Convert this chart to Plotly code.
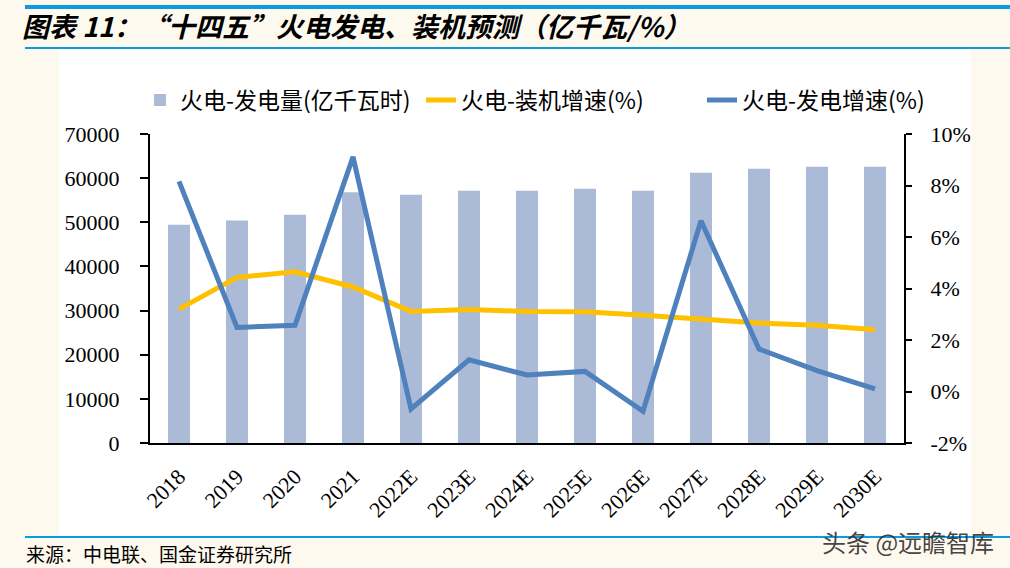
import plotly.graph_objects as go

categories = ["2018", "2019", "2020", "2021", "2022E", "2023E", "2024E", "2025E",
              "2026E", "2027E", "2028E", "2029E", "2030E"]
generation = [49450, 50400, 51700, 56800, 56250, 57150, 57150, 57600, 57150,
              61230, 62140, 62590, 62600]
capacity_growth = [3.20, 4.43, 4.65, 4.06, 3.11, 3.18, 3.11, 3.10, 2.96, 2.79,
                   2.66, 2.57, 2.40]
generation_growth = [8.16, 2.49, 2.57, 9.11, -0.68, 1.23, 0.64, 0.78, -0.77,
                     6.63, 1.65, 0.81, 0.10]

left_ticks = [0, 10000, 20000, 30000, 40000, 50000, 60000, 70000]
left_labels = ["0", "10000", "20000", "30000", "40000", "50000", "60000", "70000"]
right_ticks = [-2, 0, 2, 4, 6, 8, 10]
right_labels = ["-2%", "0%", "2%", "4%", "6%", "8%", "10%"]

names = ["火电-发电量(亿千瓦时)", "火电-装机增速(%)", "火电-发电增速(%)"]
title_text = "图表 11：“十四五”火电发电、装机预测（亿千瓦/%）"
source_text = "来源：中电联、国金证券研究所"
watermark_text = "头条 @远瞻智库"

W, H = 1010, 568
L, R, T, B = 150, 904, 134, 443  # plot area in pixels


def px(x):
    return (x - L) / (R - L)


def py(y):
    return (B - y) / (B - T)


CJK = "Noto Sans CJK SC"
SERIF = "Liberation Serif"
RULE = "#0A9BE0"
CREAM = "#FEF9EE"

fig = go.Figure()
fig.add_trace(go.Bar(x=categories, y=generation, name=names[0],
                     marker=dict(color="#ABBAD7", line=dict(width=0)),
                     yaxis="y"))
fig.add_trace(go.Scatter(x=categories, y=capacity_growth, name=names[1],
                         mode="lines", line=dict(color="#FFC000", width=5),
                         yaxis="y2"))
fig.add_trace(go.Scatter(x=categories, y=generation_growth, name=names[2],
                         mode="lines", line=dict(color="#4F81BD", width=5),
                         yaxis="y2"))

shapes = [
    dict(type="rect", xref="paper", yref="paper", x0=px(59), x1=px(971),
         y0=py(536), y1=py(49), fillcolor="white", line=dict(width=0),
         layer="below"),
    dict(type="rect", xref="paper", yref="paper", x0=px(25), x1=px(1010),
         y0=py(8), y1=py(5), fillcolor=RULE, line=dict(width=0)),
]


def rule(y, h):
    return dict(text=" ", xref="paper", yref="paper", x=px(25), y=py(y),
                xanchor="left", yanchor="middle", showarrow=False,
                width=985, height=h, bgcolor=RULE, borderpad=0, borderwidth=0,
                font=dict(size=1, color=RULE))


annotations = [
    rule(7, 3),
    rule(48.5, 2),
    rule(536.5, 2),
    dict(text=title_text, xref="paper", yref="paper", x=px(20), y=py(26),
         xanchor="left", yanchor="middle", showarrow=False,
         font=dict(family=CJK, size=27, color="black", weight="bold",
                   style="italic")),
    dict(text=source_text, xref="paper", yref="paper", x=px(24), y=py(553),
         xanchor="left", yanchor="middle", showarrow=False,
         font=dict(family=CJK, size=19, color="black")),
    dict(text=watermark_text, xref="paper", yref="paper", x=px(996), y=py(541),
         xanchor="right", yanchor="middle", showarrow=False,
         font=dict(family=CJK, size=24, color="rgba(45,45,45,0.9)")),
]

fig.update_layout(
    width=W, height=H,
    margin=dict(l=L, r=W - R, t=T, b=H - B, pad=0),
    paper_bgcolor=CREAM,
    plot_bgcolor="white",
    bargap=0.62,
    showlegend=True,
    legend=dict(orientation="h", x=px(140), y=py(100), xanchor="left",
                yanchor="middle", font=dict(family=CJK, size=23, color="black"),
                bgcolor="rgba(0,0,0,0)", itemwidth=30, traceorder="normal",
                entrywidth=236, entrywidthmode="pixels"),
    xaxis=dict(type="category", showline=True, linecolor="black", linewidth=2,
               ticks="", tickangle=-45, showgrid=False, zeroline=False,
               tickfont=dict(family=SERIF, size=22, color="black"),
               ticklabelstandoff=10),
    yaxis=dict(range=[0, 70000], tickvals=left_ticks, ticktext=left_labels,
               showline=True, linecolor="black",
               linewidth=2, ticks="outside", ticklen=8, tickwidth=2,
               tickcolor="black", showgrid=False, zeroline=False,
               tickfont=dict(family=SERIF, size=22, color="black"),
               ticklabelstandoff=16),
    yaxis2=dict(range=[-2, 10], tickvals=right_ticks, ticktext=right_labels,
                overlaying="y",
                side="right", showline=True, linecolor="black", linewidth=2,
                ticks="outside", ticklen=6, tickwidth=2, tickcolor="black",
                showgrid=False, zeroline=False,
                tickfont=dict(family=SERIF, size=22, color="black"),
                ticklabelstandoff=14),
    shapes=shapes,
    annotations=annotations,
)

fig.write_html("out.html", config={"displayModeBar": False},
               post_script="document.body.style.margin='0';")
